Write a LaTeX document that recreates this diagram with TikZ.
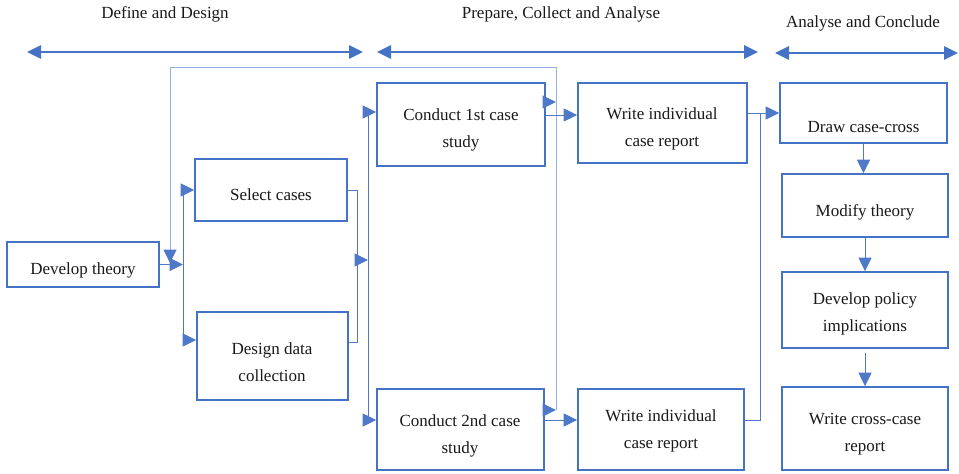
\documentclass[tikz,border=0pt]{standalone}
\usepackage{fontspec}
\setmainfont{Liberation Serif}
\usetikzlibrary{arrows.meta,calc}
\definecolor{boxblue}{RGB}{68,114,196}
\definecolor{lineblue}{RGB}{78,120,200}
\definecolor{fbblue}{RGB}{150,175,225}
\definecolor{txtcol}{RGB}{25,25,25}
\newcommand\mybox[5]{\node[boxsty, minimum width={(#4-#2)*1pt}, minimum height={(#5-#3)*1pt}] (#1) at ({(#2+#4)/2},{(#3+#5)/2}) {};}
\begin{document}
\begin{tikzpicture}[x=1pt,y=-1pt,
  boxsty/.style={draw=boxblue, line width=1.6pt, inner sep=0pt, rectangle},
  txt/.style={font=\fontsize{17}{27}\selectfont, text=txtcol, align=center, inner sep=0pt},
  conn/.style={draw=lineblue, line width=1pt},
  fb/.style={draw=fbblue, line width=1pt},
  tip/.tip={Triangle[length=13.5pt,width=13pt]},
  fbtip/.tip={Triangle[length=13.5pt,width=13pt,color=lineblue]},
  htip/.tip={Triangle[length=14pt,width=13.5pt]},
  harrow/.style={draw=boxblue, line width=1.6pt, htip-htip}]
\useasboundingbox (0,0) rectangle (959,474);
% headers
\node[txt] (hd1) at (165,14) {Define and Design};
\node[txt] (hd2) at (561,14) {Prepare, Collect and Analyse};
\node[txt] (hd3) at (863,23) {Analyse and Conclude};
\coordinate (h1l) at (27,52); \coordinate (h1r) at (363,52);
\coordinate (h2l) at (377,52); \coordinate (h2r) at (758,52);
\coordinate (h3l) at (775,53); \coordinate (h3r) at (958,53);
\draw[harrow] (h1l) -- (h1r);
\draw[harrow] (h2l) -- (h2r);
\draw[harrow] (h3l) -- (h3r);
% boxes
\mybox{dt}{7}{242}{159}{287}
\mybox{sc}{195}{159}{347}{221}
\mybox{dd}{197}{312}{348}{400}
\mybox{ca}{377}{83}{545}{166}
\mybox{cb}{377}{389}{544}{470}
\mybox{wa}{578}{83}{747}{163}
\mybox{wb}{578}{389}{744}{470}
\mybox{dc}{780}{83}{947}{143}
\mybox{mt}{782}{174}{948}{237}
\mybox{dp}{782}{272}{948}{348}
\mybox{wc}{782}{387}{948}{470}
% texts
\node[txt] (dt-t) at (83,270) {Develop theory};
\node[txt] (sc-t) at (271,195) {Select cases};
\node[txt] (dd-t) at (272,362) {Design data\\collection};
\node[txt] (ca-t) at (461,129.5) {Conduct 1st case\\study};
\node[txt] (cb-t) at (460,435.5) {Conduct 2nd case\\study};
\node[txt] (wa-t) at (662,129) {Write individual\\case report};
\node[txt] (wb-t) at (661,431) {Write individual\\case report};
\node[txt] (dc-t) at (863.5,127) {Draw case-cross};
\node[txt] (mt-t) at (865,212) {Modify theory};
\node[txt] (dp-t) at (865,313.5) {Develop policy\\implications};
\node[txt] (wc-t) at (865,434.5) {Write cross-case\\report};
% bus coordinates
\coordinate (b1t) at (183,190); \coordinate (b1b) at (183,340);
\coordinate (b2t) at (357,190); \coordinate (b2b) at (357,342);
\coordinate (b2m) at (357,260); \coordinate (b3m) at (368,260);
\coordinate (b3t) at (368,112); \coordinate (b3b) at (368,420);
\coordinate (a1) at (545,115);
\coordinate (fb1) at (556,102); \coordinate (fb2) at (556,410);
\coordinate (fbt) at (556,67); \coordinate (fbl) at (170,67); \coordinate (fbe) at (170,263);
\coordinate (b4t) at (760,113); \coordinate (b4b) at (760,420);
% feedback loop
\draw[fb,-fbtip] (fb2) -- (fbt) -- (fbl) -- (fbe);
% define & design
\draw[conn,-tip] (dt.east) -- (dt.east -| b1t);
\draw[conn] (b1t) -- (b1b);
\draw[conn,-tip] (b1t) -- (b1t -| sc.west);
\draw[conn,-tip] (b1b) -- (b1b -| dd.west);
\draw[conn] (sc.east |- b2t) -- (b2t) -- (b2b) -- (b2b -| dd.east);
\draw[conn,-tip] (b2m) -- (b3m);
\draw[conn] (b3t) -- (b3b);
\draw[conn,-tip] (b3t) -- (b3t -| ca.west);
\draw[conn,-tip] (b3b) -- (b3b -| cb.west);
% case studies
\draw[conn,-tip] (ca.east |- a1) -- (a1 -| wa.west);
\draw[conn,-tip] (ca.east |- fb1) -- (fb1);
\draw[conn,-tip] (cb.east |- b3b) -- (b3b -| wb.west);
\draw[conn,-tip] (cb.east |- fb2) -- (fb2);
% reports
\draw[conn,-tip] (wa.east |- b4t) -- (b4t -| dc.west);
\draw[conn] (b4t) -- (b4b) -- (wb.east |- b4b);
% conclude
\draw[conn,-tip] (dc.south) -- (dc.south |- mt.north);
\draw[conn,-tip] (mt.south) -- (mt.south |- dp.north);
\draw[conn,-tip] ([yshift=-4pt]dp.south) -- (wc.north);
\end{tikzpicture}
\end{document}
